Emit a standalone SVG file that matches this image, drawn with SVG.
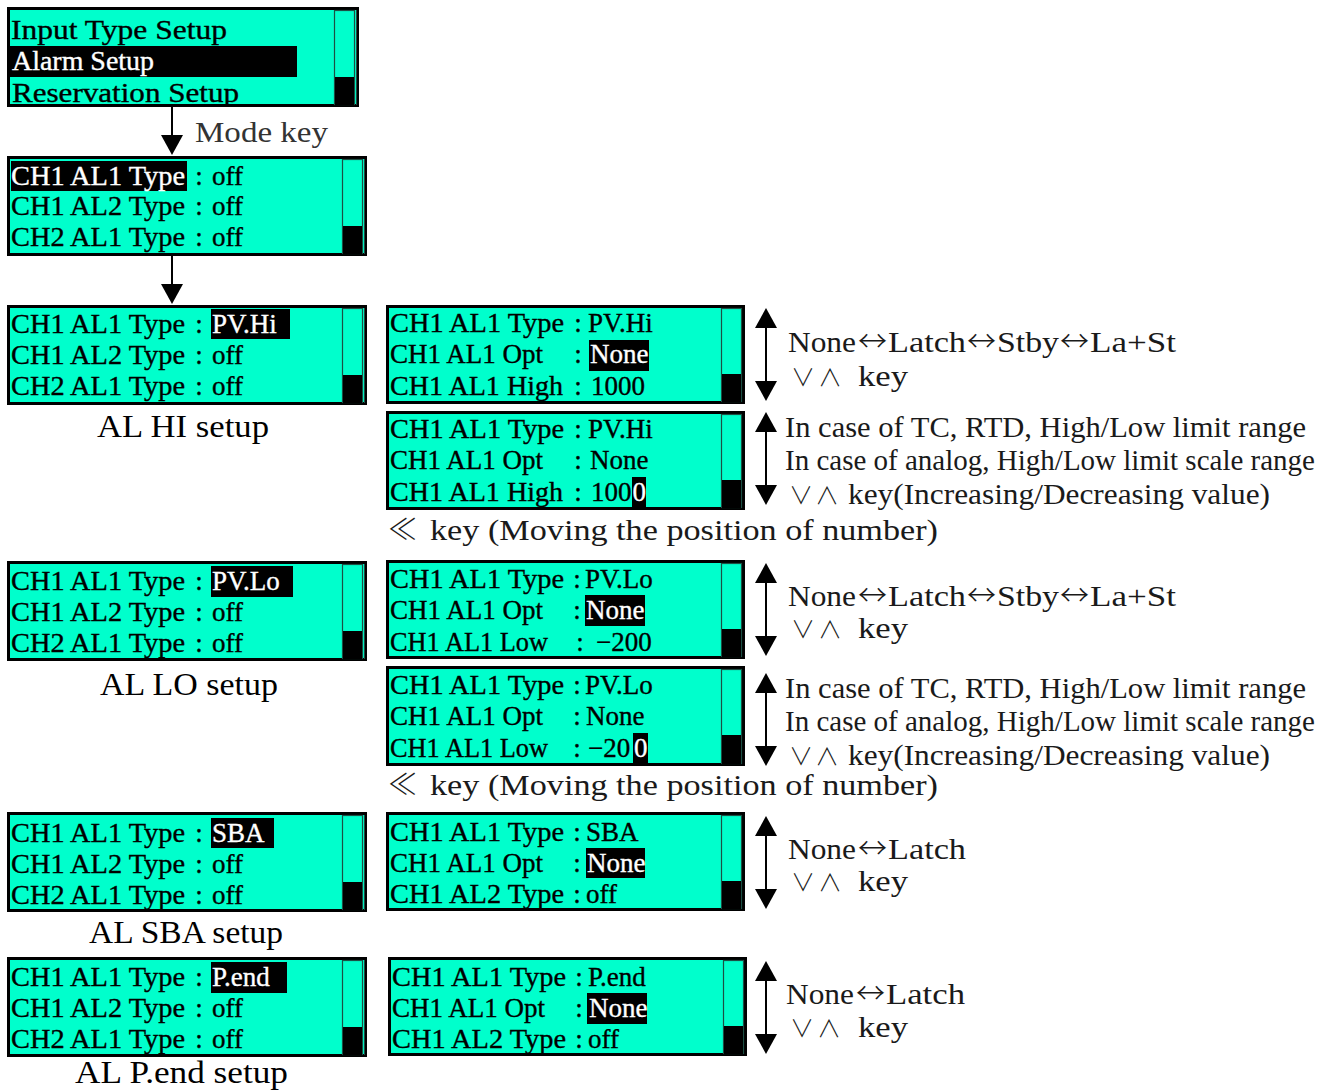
<svg xmlns="http://www.w3.org/2000/svg" width="1333" height="1090" viewBox="0 0 1333 1090">
<style>
.lcd{fill:#00FFCC;stroke:#000;stroke-width:3}
.sb{fill:#00FFCC;stroke:#1d4f44;stroke-width:1.2}
.th{fill:#000}
.hl{fill:#000}
.t{font-family:"Liberation Serif","DejaVu Serif",serif;font-size:27px;fill:#000;stroke:#000;stroke-width:0.35}
.w{fill:#fff;stroke:#fff}
.c{text-anchor:middle}
.a{font-family:"Liberation Serif","DejaVu Serif",serif;font-size:29px;fill:#1a1a1a}
.s{font-family:"Noto Sans CJK KR","Noto Sans CJK SC",sans-serif;font-weight:300}
.v{font-family:"Noto Sans CJK KR","Noto Sans CJK SC",sans-serif;font-weight:300;font-size:24px}
.lb{font-family:"Liberation Serif","DejaVu Serif",serif;font-size:31px;fill:#000}
.mk{font-family:"Liberation Serif","DejaVu Serif",serif;font-size:29px;fill:#333}
.ln{stroke:#000;stroke-width:2;fill:none;marker-end:url(#ah)}
.dl{stroke:#000;stroke-width:2;fill:none;marker-start:url(#ah);marker-end:url(#ah)}
</style>
<defs>
<marker id="ah" viewBox="0 0 20 22" refX="4" refY="11" markerWidth="20" markerHeight="22" markerUnits="userSpaceOnUse" orient="auto-start-reverse">
<path d="M0,0 L20,11 L0,22 z" fill="#000"/>
</marker>
<clipPath id="cp1"><rect x="10" y="10" width="346" height="95"/></clipPath>
</defs>
<rect width="1333" height="1090" fill="#fff"/>

<g id="connectors">
<line class="ln" x1="172" y1="107" x2="172" y2="139"/>
<line class="ln" x1="172" y1="256" x2="172" y2="288"/>
<line class="dl" x1="766" y1="324" x2="766" y2="385"/>
<line class="dl" x1="766" y1="428" x2="766" y2="489"/>
<line class="dl" x1="766" y1="579" x2="766" y2="640"/>
<line class="dl" x1="766" y1="689" x2="766" y2="750"/>
<line class="dl" x1="766" y1="832" x2="766" y2="893"/>
<line class="dl" x1="766" y1="977" x2="766" y2="1038"/>
</g>

<g id="box-menu">
<rect class="lcd" x="8.5" y="8.5" width="349" height="97"/>
<rect class="sb" x="334.5" y="10.5" width="20" height="94"/>
<rect class="th" x="335" y="77" width="19" height="28"/>
<line x1="356.5" y1="10" x2="356.5" y2="105" stroke="#1d4f44" stroke-width="1"/>
<g clip-path="url(#cp1)">
<text class="t" x="11" y="39" textLength="216" lengthAdjust="spacingAndGlyphs">Input Type Setup</text>
<rect class="hl" x="10" y="46" width="287" height="31"/>
<text class="t w" x="12" y="70" textLength="142" lengthAdjust="spacingAndGlyphs">Alarm Setup</text>
<text class="t" x="12" y="102" textLength="227" lengthAdjust="spacingAndGlyphs">Reservation Setup</text>
</g>
</g>
<text id="lbl-mode" class="mk" x="195" y="142" textLength="133" lengthAdjust="spacingAndGlyphs">Mode key</text>

<g id="box-list">
<rect class="lcd" x="8.5" y="157.5" width="357" height="97"/>
<rect class="sb" x="342.5" y="159.5" width="20" height="94"/>
<rect class="th" x="343" y="226" width="19" height="28"/>
<line x1="364.5" y1="159" x2="364.5" y2="254" stroke="#1d4f44" stroke-width="1"/>
<rect class="hl" x="11" y="161" width="176" height="30"/>
<text class="t w" x="11" y="185" textLength="174" lengthAdjust="spacingAndGlyphs">CH1 AL1 Type</text><text class="t c" x="199" y="185">:</text><text class="t" x="212" y="185">off</text>
<text class="t" x="11" y="215" textLength="174" lengthAdjust="spacingAndGlyphs">CH1 AL2 Type</text><text class="t c" x="199" y="215">:</text><text class="t" x="212" y="215">off</text>
<text class="t" x="11" y="246" textLength="174" lengthAdjust="spacingAndGlyphs">CH2 AL1 Type</text><text class="t c" x="199" y="246">:</text><text class="t" x="212" y="246">off</text>
</g>

<g id="box-hi">
<rect class="lcd" x="8.5" y="306.5" width="357" height="97"/>
<rect class="sb" x="342.5" y="308.5" width="20" height="94"/>
<rect class="th" x="343" y="375" width="19" height="28"/>
<line x1="364.5" y1="308" x2="364.5" y2="403" stroke="#1d4f44" stroke-width="1"/>
<rect class="hl" x="211" y="309" width="79" height="30"/>
<text class="t" x="11" y="333" textLength="174" lengthAdjust="spacingAndGlyphs">CH1 AL1 Type</text><text class="t c" x="199" y="333">:</text><text class="t w" x="212" y="333">PV.Hi</text>
<text class="t" x="11" y="364" textLength="174" lengthAdjust="spacingAndGlyphs">CH1 AL2 Type</text><text class="t c" x="199" y="364">:</text><text class="t" x="212" y="364">off</text>
<text class="t" x="11" y="395" textLength="174" lengthAdjust="spacingAndGlyphs">CH2 AL1 Type</text><text class="t c" x="199" y="395">:</text><text class="t" x="212" y="395">off</text>
</g>
<text id="lbl-hi" class="lb" x="97" y="437" textLength="172" lengthAdjust="spacingAndGlyphs">AL HI setup</text>

<g id="box-hi-opt">
<rect class="lcd" x="387.5" y="306.5" width="356" height="96"/>
<rect class="sb" x="721.5" y="308.5" width="20" height="93"/>
<rect class="th" x="722" y="374" width="19" height="28"/>
<rect class="hl" x="589" y="340" width="60" height="31"/>
<text class="t" x="390" y="332" textLength="174" lengthAdjust="spacingAndGlyphs">CH1 AL1 Type</text><text class="t c" x="578" y="332">:</text><text class="t" x="588" y="332">PV.Hi</text>
<text class="t" x="390" y="363" textLength="153" lengthAdjust="spacingAndGlyphs">CH1 AL1 Opt</text><text class="t c" x="578" y="363">:</text><text class="t w" x="590" y="363">None</text>
<text class="t" x="390" y="395" textLength="173" lengthAdjust="spacingAndGlyphs">CH1 AL1 High</text><text class="t c" x="578" y="395">:</text><text class="t" x="591" y="395">1000</text>
</g>

<g id="box-hi-val">
<rect class="lcd" x="387.5" y="412.5" width="356" height="96"/>
<rect class="sb" x="721.5" y="414.5" width="20" height="93"/>
<rect class="th" x="722" y="480" width="19" height="28"/>
<rect class="hl" x="632" y="477" width="14" height="30"/>
<text class="t" x="390" y="438" textLength="174" lengthAdjust="spacingAndGlyphs">CH1 AL1 Type</text><text class="t c" x="578" y="438">:</text><text class="t" x="588" y="438">PV.Hi</text>
<text class="t" x="390" y="469" textLength="153" lengthAdjust="spacingAndGlyphs">CH1 AL1 Opt</text><text class="t c" x="578" y="469">:</text><text class="t" x="590" y="469">None</text>
<text class="t" x="390" y="501" textLength="173" lengthAdjust="spacingAndGlyphs">CH1 AL1 High</text><text class="t c" x="578" y="501">:</text><text class="t" x="591" y="501">100<tspan class="w" x="632.5">0</tspan></text>
</g>

<g id="note-hi">
<text class="a" x="788" y="352"><tspan textLength="68" lengthAdjust="spacingAndGlyphs">None</tspan><tspan class="s" x="858">↔</tspan><tspan x="888" textLength="78" lengthAdjust="spacingAndGlyphs">Latch</tspan><tspan class="s" x="967">↔</tspan><tspan x="997" textLength="62" lengthAdjust="spacingAndGlyphs">Stby</tspan><tspan class="s" x="1060">↔</tspan><tspan x="1090" textLength="86" lengthAdjust="spacingAndGlyphs">La+St</tspan></text>
<text class="a" x="791" y="386"><tspan class="v">∨</tspan><tspan class="v" x="818">∧</tspan><tspan x="858" textLength="50" lengthAdjust="spacingAndGlyphs">key</tspan></text>
<text class="a" x="785" y="437" textLength="521" lengthAdjust="spacingAndGlyphs">In case of TC, RTD, High/Low limit range</text>
<text class="a" x="785" y="470" textLength="530" lengthAdjust="spacingAndGlyphs">In case of analog, High/Low limit scale range</text>
<text class="a" x="789" y="504"><tspan class="v">∨</tspan><tspan class="v" x="815">∧</tspan><tspan x="848" textLength="422" lengthAdjust="spacingAndGlyphs">key(Increasing/Decreasing value)</tspan></text>
<text class="a" x="388" y="540"><tspan class="s">≪</tspan><tspan x="430" textLength="508" lengthAdjust="spacingAndGlyphs">key (Moving the position of number)</tspan></text>
</g>

<g id="box-lo">
<rect class="lcd" x="8.5" y="562.5" width="357" height="97"/>
<rect class="sb" x="342.5" y="564.5" width="20" height="94"/>
<rect class="th" x="343" y="631" width="19" height="28"/>
<line x1="364.5" y1="564" x2="364.5" y2="659" stroke="#1d4f44" stroke-width="1"/>
<rect class="hl" x="211" y="566" width="82" height="31"/>
<text class="t" x="11" y="590" textLength="174" lengthAdjust="spacingAndGlyphs">CH1 AL1 Type</text><text class="t c" x="199" y="590">:</text><text class="t w" x="212" y="590">PV.Lo</text>
<text class="t" x="11" y="621" textLength="174" lengthAdjust="spacingAndGlyphs">CH1 AL2 Type</text><text class="t c" x="199" y="621">:</text><text class="t" x="212" y="621">off</text>
<text class="t" x="11" y="652" textLength="174" lengthAdjust="spacingAndGlyphs">CH2 AL1 Type</text><text class="t c" x="199" y="652">:</text><text class="t" x="212" y="652">off</text>
</g>
<text id="lbl-lo" class="lb" x="100" y="695" textLength="178" lengthAdjust="spacingAndGlyphs">AL LO setup</text>

<g id="box-lo-opt">
<rect class="lcd" x="387.5" y="561.5" width="356" height="96"/>
<rect class="sb" x="721.5" y="563.5" width="20" height="93"/>
<rect class="th" x="722" y="629" width="19" height="28"/>
<rect class="hl" x="585" y="595" width="60" height="31"/>
<text class="t" x="390" y="588" textLength="174" lengthAdjust="spacingAndGlyphs">CH1 AL1 Type</text><text class="t c" x="577" y="588">:</text><text class="t" x="585" y="588">PV.Lo</text>
<text class="t" x="390" y="619" textLength="153" lengthAdjust="spacingAndGlyphs">CH1 AL1 Opt</text><text class="t c" x="577" y="619">:</text><text class="t w" x="586" y="619">None</text>
<text class="t" x="390" y="651" textLength="158" lengthAdjust="spacingAndGlyphs">CH1 AL1 Low</text><text class="t c" x="580" y="651">:</text><text class="t" x="596" y="651">−200</text>
</g>

<g id="box-lo-val">
<rect class="lcd" x="387.5" y="667.5" width="356" height="97"/>
<rect class="sb" x="721.5" y="669.5" width="20" height="94"/>
<rect class="th" x="722" y="735" width="19" height="29"/>
<rect class="hl" x="633" y="733" width="15" height="30"/>
<text class="t" x="390" y="694" textLength="174" lengthAdjust="spacingAndGlyphs">CH1 AL1 Type</text><text class="t c" x="577" y="694">:</text><text class="t" x="585" y="694">PV.Lo</text>
<text class="t" x="390" y="725" textLength="153" lengthAdjust="spacingAndGlyphs">CH1 AL1 Opt</text><text class="t c" x="577" y="725">:</text><text class="t" x="586" y="725">None</text>
<text class="t" x="390" y="757" textLength="158" lengthAdjust="spacingAndGlyphs">CH1 AL1 Low</text><text class="t c" x="577" y="757">:</text><text class="t" x="588" y="757">−20<tspan class="w" x="634">0</tspan></text>
</g>

<g id="note-lo">
<text class="a" x="788" y="606"><tspan textLength="68" lengthAdjust="spacingAndGlyphs">None</tspan><tspan class="s" x="858">↔</tspan><tspan x="888" textLength="78" lengthAdjust="spacingAndGlyphs">Latch</tspan><tspan class="s" x="967">↔</tspan><tspan x="997" textLength="62" lengthAdjust="spacingAndGlyphs">Stby</tspan><tspan class="s" x="1060">↔</tspan><tspan x="1090" textLength="86" lengthAdjust="spacingAndGlyphs">La+St</tspan></text>
<text class="a" x="791" y="638"><tspan class="v">∨</tspan><tspan class="v" x="818">∧</tspan><tspan x="858" textLength="50" lengthAdjust="spacingAndGlyphs">key</tspan></text>
<text class="a" x="785" y="698" textLength="521" lengthAdjust="spacingAndGlyphs">In case of TC, RTD, High/Low limit range</text>
<text class="a" x="785" y="731" textLength="530" lengthAdjust="spacingAndGlyphs">In case of analog, High/Low limit scale range</text>
<text class="a" x="789" y="765"><tspan class="v">∨</tspan><tspan class="v" x="815">∧</tspan><tspan x="848" textLength="422" lengthAdjust="spacingAndGlyphs">key(Increasing/Decreasing value)</tspan></text>
<text class="a" x="388" y="795"><tspan class="s">≪</tspan><tspan x="430" textLength="508" lengthAdjust="spacingAndGlyphs">key (Moving the position of number)</tspan></text>
</g>

<g id="box-sba">
<rect class="lcd" x="8.5" y="813.5" width="357" height="97"/>
<rect class="sb" x="342.5" y="815.5" width="20" height="94"/>
<rect class="th" x="343" y="882" width="19" height="28"/>
<line x1="364.5" y1="815" x2="364.5" y2="910" stroke="#1d4f44" stroke-width="1"/>
<rect class="hl" x="211" y="818" width="63" height="30"/>
<text class="t" x="11" y="842" textLength="174" lengthAdjust="spacingAndGlyphs">CH1 AL1 Type</text><text class="t c" x="199" y="842">:</text><text class="t w" x="212" y="842">SBA</text>
<text class="t" x="11" y="873" textLength="174" lengthAdjust="spacingAndGlyphs">CH1 AL2 Type</text><text class="t c" x="199" y="873">:</text><text class="t" x="212" y="873">off</text>
<text class="t" x="11" y="904" textLength="174" lengthAdjust="spacingAndGlyphs">CH2 AL1 Type</text><text class="t c" x="199" y="904">:</text><text class="t" x="212" y="904">off</text>
</g>
<text id="lbl-sba" class="lb" x="89" y="943" textLength="194" lengthAdjust="spacingAndGlyphs">AL SBA setup</text>

<g id="box-sba-opt">
<rect class="lcd" x="387.5" y="813.5" width="356" height="96"/>
<rect class="sb" x="721.5" y="815.5" width="20" height="93"/>
<rect class="th" x="722" y="881" width="19" height="28"/>
<rect class="hl" x="586" y="848" width="59" height="30"/>
<text class="t" x="390" y="841" textLength="174" lengthAdjust="spacingAndGlyphs">CH1 AL1 Type</text><text class="t c" x="577" y="841">:</text><text class="t" x="586" y="841">SBA</text>
<text class="t" x="390" y="872" textLength="153" lengthAdjust="spacingAndGlyphs">CH1 AL1 Opt</text><text class="t c" x="577" y="872">:</text><text class="t w" x="587" y="872">None</text>
<text class="t" x="390" y="903" textLength="174" lengthAdjust="spacingAndGlyphs">CH1 AL2 Type</text><text class="t c" x="577" y="903">:</text><text class="t" x="586" y="903">off</text>
</g>

<g id="note-sba">
<text class="a" x="788" y="859"><tspan textLength="68" lengthAdjust="spacingAndGlyphs">None</tspan><tspan class="s" x="858">↔</tspan><tspan x="888" textLength="78" lengthAdjust="spacingAndGlyphs">Latch</tspan></text>
<text class="a" x="791" y="891"><tspan class="v">∨</tspan><tspan class="v" x="818">∧</tspan><tspan x="858" textLength="50" lengthAdjust="spacingAndGlyphs">key</tspan></text>
</g>

<g id="box-pend">
<rect class="lcd" x="8.5" y="958.5" width="357" height="97"/>
<rect class="sb" x="342.5" y="960.5" width="20" height="94"/>
<rect class="th" x="343" y="1027" width="19" height="28"/>
<line x1="364.5" y1="960" x2="364.5" y2="1055" stroke="#1d4f44" stroke-width="1"/>
<rect class="hl" x="211" y="962" width="76" height="31"/>
<text class="t" x="11" y="986" textLength="174" lengthAdjust="spacingAndGlyphs">CH1 AL1 Type</text><text class="t c" x="199" y="986">:</text><text class="t w" x="212" y="986">P.end</text>
<text class="t" x="11" y="1017" textLength="174" lengthAdjust="spacingAndGlyphs">CH1 AL2 Type</text><text class="t c" x="199" y="1017">:</text><text class="t" x="212" y="1017">off</text>
<text class="t" x="11" y="1048" textLength="174" lengthAdjust="spacingAndGlyphs">CH2 AL1 Type</text><text class="t c" x="199" y="1048">:</text><text class="t" x="212" y="1048">off</text>
</g>
<text id="lbl-pend" class="lb" x="75" y="1083" textLength="213" lengthAdjust="spacingAndGlyphs">AL P.end setup</text>

<g id="box-pend-opt">
<rect class="lcd" x="389.5" y="958.5" width="356" height="96"/>
<rect class="sb" x="723.5" y="960.5" width="20" height="93"/>
<rect class="th" x="724" y="1026" width="19" height="28"/>
<rect class="hl" x="587" y="993" width="60" height="31"/>
<text class="t" x="392" y="986" textLength="174" lengthAdjust="spacingAndGlyphs">CH1 AL1 Type</text><text class="t c" x="579" y="986">:</text><text class="t" x="588" y="986">P.end</text>
<text class="t" x="392" y="1017" textLength="153" lengthAdjust="spacingAndGlyphs">CH1 AL1 Opt</text><text class="t c" x="579" y="1017">:</text><text class="t w" x="589" y="1017">None</text>
<text class="t" x="392" y="1048" textLength="174" lengthAdjust="spacingAndGlyphs">CH1 AL2 Type</text><text class="t c" x="579" y="1048">:</text><text class="t" x="588" y="1048">off</text>
</g>

<g id="note-pend">
<text class="a" x="786" y="1004"><tspan textLength="68" lengthAdjust="spacingAndGlyphs">None</tspan><tspan class="s" x="856">↔</tspan><tspan x="886" textLength="79" lengthAdjust="spacingAndGlyphs">Latch</tspan></text>
<text class="a" x="790" y="1037"><tspan class="v">∨</tspan><tspan class="v" x="817">∧</tspan><tspan x="858" textLength="50" lengthAdjust="spacingAndGlyphs">key</tspan></text>
</g>
</svg>
